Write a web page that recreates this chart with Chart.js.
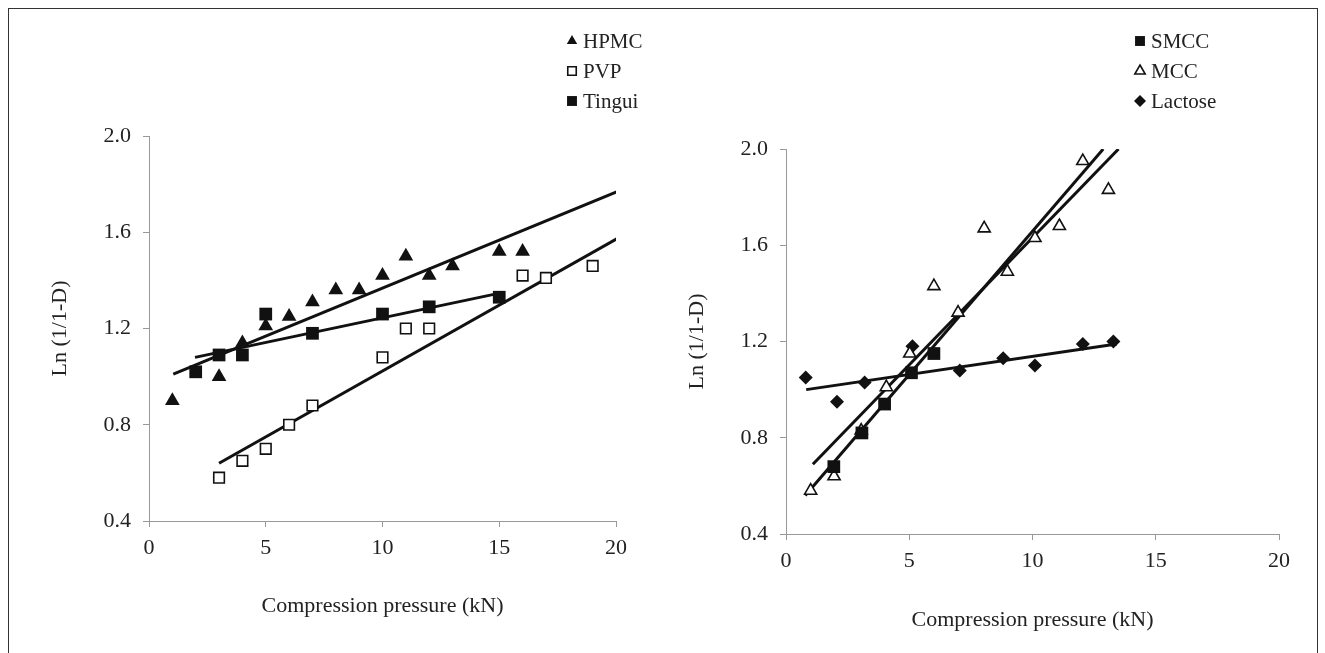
<!DOCTYPE html>
<html>
<head>
<meta charset="utf-8">
<script src="https://cdn.jsdelivr.net/npm/chart.js@4.4.1/dist/chart.umd.min.js"></script>
<style>
  body { margin: 0; background: #fff; width: 1325px; height: 653px; overflow: hidden; position: relative; }
  #frame { position: absolute; left: 8px; top: 8px; width: 1308px; height: 700px; border: 1px solid #333; }
  #leftBox { position: absolute; left: 0; top: 0; }
  #rightBox { position: absolute; left: 665px; top: 0; }
</style>
</head>
<body>
<div id="frame"></div>
<div id="leftBox"><canvas id="leftChart" width="660" height="653"></canvas></div>
<div id="rightBox"><canvas id="rightChart" width="660" height="653"></canvas></div>
<script>
// left panel
const hpmcX = [1, 3, 4, 5, 6, 7, 8, 9, 10, 11, 12, 13, 15, 16];
const hpmcY = [0.90, 1.00, 1.14, 1.21, 1.25, 1.31, 1.36, 1.36, 1.42, 1.50, 1.42, 1.46, 1.52, 1.52];
const pvpX = [3, 4, 5, 6, 7, 10, 11, 12, 16, 17, 19];
const pvpY = [0.58, 0.65, 0.70, 0.80, 0.88, 1.08, 1.20, 1.20, 1.42, 1.41, 1.46];
const tinguiX = [2, 3, 4, 5, 7, 10, 12, 15];
const tinguiY = [1.02, 1.09, 1.09, 1.26, 1.18, 1.26, 1.29, 1.33];
const hpmcFitX = [1.04, 20.07];
const hpmcFitY = [1.01, 1.77];
const pvpFitX = [3.0, 20.07];
const pvpFitY = [0.64, 1.575];
const tinguiFitX = [1.97, 14.97];
const tinguiFitY = [1.08, 1.346];

// right panel
const smccX = [1.94, 3.08, 4.0, 5.09, 6.0];
const smccY = [0.68, 0.82, 0.94, 1.07, 1.15];
const mccX = [1.0, 1.95, 3.05, 4.07, 5.02, 6.0, 6.98, 8.04, 8.98, 10.1, 11.09, 12.04, 13.08];
const mccY = [0.58, 0.64, 0.83, 1.01, 1.15, 1.43, 1.32, 1.67, 1.49, 1.63, 1.68, 1.95, 1.83];
const lactoseX = [0.8, 2.07, 3.19, 5.13, 7.05, 8.81, 10.1, 12.04, 13.28];
const lactoseY = [1.05, 0.95, 1.03, 1.18, 1.08, 1.13, 1.10, 1.19, 1.20];
const mccFitX = [1.09, 13.49];
const mccFitY = [0.69, 2.0];
const smccFitX = [0.78, 12.87];
const smccFitY = [0.56, 2.0];
const lactoseFitX = [0.82, 13.42];
const lactoseFitY = [1.0, 1.19];

const xTicks = [0, 5, 10, 15, 20];
const yTicks = [0.4, 0.8, 1.2, 1.6, 2.0];

const INK = '#111';
const AXIS = '#999';
const TEXT = '#222';

Chart.defaults.font.family = '"Liberation Serif", "DejaVu Serif", serif';
Chart.defaults.color = TEXT;

function pts(xs, ys) {
	return xs.map((x, i) => ({ x: x, y: ys[i] }));
}

function scatterSet(label, xs, ys, style, radius, fill) {
	return {
		type: 'scatter',
		label: label,
		data: pts(xs, ys),
		pointStyle: style,
		pointRadius: radius,
		pointBackgroundColor: fill,
		pointBorderColor: INK,
		pointBorderWidth: fill === '#fff' ? 1.6 : 0,
		showLine: false
	};
}

function fitSet(xs, ys) {
	return {
		type: 'line',
		label: '',
		data: pts(xs, ys),
		borderColor: INK,
		borderWidth: 3,
		pointRadius: 0,
		fill: false,
		tension: 0
	};
}

const sideLegend = {
	id: 'sideLegend',
	afterDraw(chart, args, opts) {
		const ctx = chart.ctx;
		ctx.save();
		ctx.font = '21px "Liberation Serif", serif';
		ctx.textBaseline = 'middle';
		opts.items.forEach((item, i) => {
			const ds = chart.data.datasets[item.index];
			const y = opts.top + i * opts.gap;
			ctx.fillStyle = ds.pointBackgroundColor;
			ctx.strokeStyle = INK;
			ctx.lineWidth = ds.pointBorderWidth;
			Chart.helpers.drawPoint(ctx, {
				pointStyle: ds.pointStyle,
				radius: item.radius,
				borderWidth: ds.pointBorderWidth,
				rotation: 0
			}, opts.x, y);
			ctx.fillStyle = TEXT;
			ctx.fillText(ds.label, opts.x + 11, y + 1);
		});
		ctx.restore();
	}
};

function createChart(canvasId, datasets, pad, yWidth, xHeight, legend) {
	return new Chart(document.getElementById(canvasId), {
		data: { datasets: datasets },
		plugins: [sideLegend],
		options: {
			responsive: false,
			animation: false,
			devicePixelRatio: 1,
			layout: { padding: pad },
			plugins: {
				legend: { display: false },
				tooltip: { enabled: false },
				sideLegend: legend
			},
			scales: {
				x: {
					type: 'linear',
					min: 0,
					max: 20,
					afterBuildTicks: (s) => { s.ticks = xTicks.map(v => ({ value: v })); },
					ticks: { padding: 8, font: { size: 22 }, color: TEXT },
					grid: { drawOnChartArea: false, drawTicks: true, tickLength: 6, color: AXIS },
					border: { color: AXIS, width: 1 },
					title: { display: true, text: 'Compression pressure (kN)', font: { size: 22 }, color: TEXT, padding: 0 },
					afterFit: (s) => { s.height = xHeight; }
				},
				y: {
					type: 'linear',
					min: 0.4,
					max: 2.0,
					afterBuildTicks: (s) => { s.ticks = yTicks.map(v => ({ value: v })); },
					ticks: { padding: 12, font: { size: 22 }, color: TEXT, callback: (v) => Number(v).toFixed(1) },
					grid: { drawOnChartArea: false, drawTicks: true, tickLength: 6, color: AXIS },
					border: { color: AXIS, width: 1 },
					title: { display: true, text: 'Ln (1/1-D)', font: { size: 22 }, color: TEXT, padding: 0 },
					afterFit: (s) => { s.width = yWidth; }
				}
			}
		}
	});
}

const leftChart = createChart('leftChart', [
	scatterSet('HPMC', hpmcX, hpmcY, 'triangle', 8.5, INK),
	scatterSet('PVP', pvpX, pvpY, 'rect', 7.5, '#fff'),
	scatterSet('Tingui', tinguiX, tinguiY, 'rect', 9, INK),
	fitSet(hpmcFitX, hpmcFitY),
	fitSet(pvpFitX, pvpFitY),
	fitSet(tinguiFitX, tinguiFitY)
], { left: 47, top: 136, right: 44, bottom: 34 }, 102, 98, {
	x: 572, top: 41, gap: 30,
	items: [{ index: 0, radius: 6 }, { index: 1, radius: 6 }, { index: 2, radius: 7 }]
});

const rightChart = createChart('rightChart', [
	scatterSet('SMCC', smccX, smccY, 'rect', 9, INK),
	scatterSet('MCC', mccX, mccY, 'triangle', 7, '#fff'),
	scatterSet('Lactose', lactoseX, lactoseY, 'rectRot', 7, INK),
	fitSet(mccFitX, mccFitY),
	fitSet(smccFitX, smccFitY),
	fitSet(lactoseFitX, lactoseFitY)
], { left: 19, top: 149, right: 46, bottom: 20 }, 102, 99, {
	x: 475, top: 41, gap: 30,
	items: [{ index: 0, radius: 7 }, { index: 1, radius: 6 }, { index: 2, radius: 6 }]
});
</script>
</body>
</html>
